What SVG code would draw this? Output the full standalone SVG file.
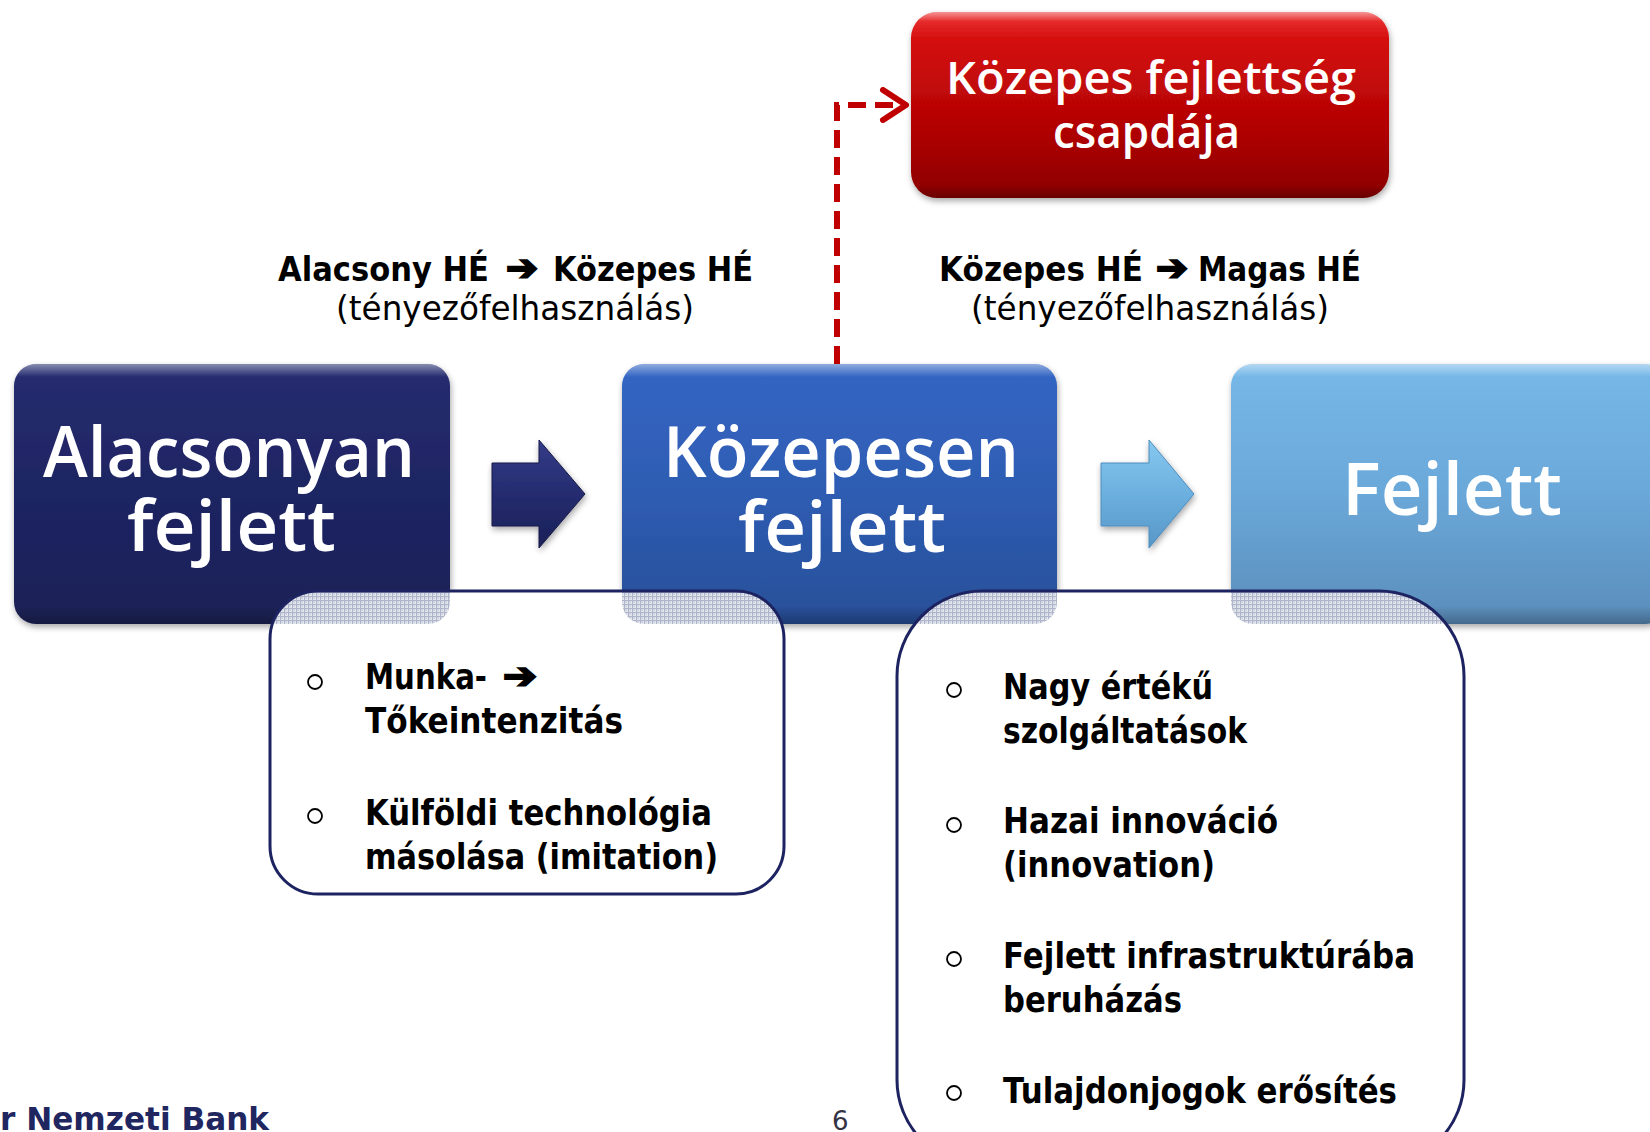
<svg xmlns="http://www.w3.org/2000/svg" width="1650" height="1132" viewBox="0 0 1650 1132">
<defs>
<style>
.big{font-family:"Open Sans","Noto Sans",sans-serif;font-weight:600;fill:#ffffff}
.lbl{font-family:"DejaVu Sans","Liberation Sans",sans-serif;font-weight:bold;fill:#000000;font-size:34px}
.sub{font-family:"DejaVu Sans","Liberation Sans",sans-serif;fill:#000000;font-size:33px}
.item{font-family:"DejaVu Sans","Liberation Sans",sans-serif;font-weight:bold;fill:#000000;font-size:35px}
.arw{font-family:"DejaVu Sans",sans-serif;font-size:36px;fill:#000;stroke:#000;stroke-width:2.2}
.bul{fill:none;stroke:#000;stroke-width:1.8}
.callout{stroke:#1c2360;stroke-width:3;fill:none}
.conn{fill:none;stroke:#c00000;stroke-width:6;stroke-dasharray:18 9}
</style>
<linearGradient id="gDark" x1="0" y1="0" x2="0" y2="1">
<stop offset="0" stop-color="#262d70"/><stop offset="0.5" stop-color="#1e2562"/><stop offset="1" stop-color="#1a2056"/>
</linearGradient>
<linearGradient id="gMid" x1="0" y1="0" x2="0" y2="1">
<stop offset="0" stop-color="#3466c4"/><stop offset="0.5" stop-color="#2e5cb2"/><stop offset="1" stop-color="#284f98"/>
</linearGradient>
<linearGradient id="gLight" x1="0" y1="0" x2="0" y2="1">
<stop offset="0" stop-color="#76b8e8"/><stop offset="0.5" stop-color="#6aa8d9"/><stop offset="1" stop-color="#5a8dba"/>
</linearGradient>
<linearGradient id="gRed" x1="0" y1="0" x2="0" y2="1">
<stop offset="0" stop-color="#ee3b3b"/><stop offset="0.15" stop-color="#d40c0c"/><stop offset="0.6" stop-color="#b40404"/><stop offset="1" stop-color="#8a0505"/>
</linearGradient>
<linearGradient id="gBevel" x1="0" y1="0" x2="0" y2="1">
<stop offset="0" stop-color="#ffffff" stop-opacity="0.45"/><stop offset="0.05" stop-color="#ffffff" stop-opacity="0"/><stop offset="0.93" stop-color="#000000" stop-opacity="0"/><stop offset="1" stop-color="#000000" stop-opacity="0.25"/>
</linearGradient>
<linearGradient id="gArr1" x1="0" y1="0" x2="0" y2="1">
<stop offset="0" stop-color="#343c88"/><stop offset="0.5" stop-color="#252c70"/><stop offset="1" stop-color="#1a2056"/>
</linearGradient>
<linearGradient id="gArr2" x1="0" y1="0" x2="0" y2="1">
<stop offset="0" stop-color="#86c8ef"/><stop offset="0.5" stop-color="#6cb0df"/><stop offset="1" stop-color="#5796c6"/>
</linearGradient>
<pattern id="hatch" width="4" height="4" patternUnits="userSpaceOnUse">
<rect width="4" height="4" fill="#e3e6ee"/>
<path d="M0,0.5H4M0.5,0V4" stroke="#aeb5c8" stroke-width="1"/>
<path d="M1,1L3,3M3,1L1,3" stroke="#c4c9d8" stroke-width="0.6"/>
</pattern>
<filter id="sh" x="-5%" y="-5%" width="115%" height="125%">
<feDropShadow dx="1" dy="3" stdDeviation="3" flood-color="#000" flood-opacity="0.35"/>
</filter>
<marker id="chev" viewBox="0 0 32 36" refX="28" refY="18" markerWidth="32" markerHeight="36" markerUnits="userSpaceOnUse" orient="auto">
<path d="M5,3 L28,18 L5,33" fill="none" stroke="#c00000" stroke-width="6" stroke-linecap="round" stroke-linejoin="round"/>
</marker>
<clipPath id="clipC1"><path d="M318,591 H736 A48,48 0 0 1 784,639 V846 A48,48 0 0 1 736,894 H318 A48,48 0 0 1 270,846 V639 A48,48 0 0 1 318,591 Z"/></clipPath>
<clipPath id="clipC2"><path d="M982,591 H1379 A85,85 0 0 1 1464,676 V1080 A85,85 0 0 1 1379,1165 H982 A85,85 0 0 1 897,1080 V676 A85,85 0 0 1 982,591 Z"/></clipPath>
</defs>

<rect width="1650" height="1132" fill="#ffffff"/>

<g id="connectors">
<path class="conn" d="M837,364 V105 H906" marker-end="url(#chev)"/>
</g>

<g id="node-alacsonyan">
<rect x="14" y="364" width="436" height="260" rx="22" fill="url(#gDark)" filter="url(#sh)"/>
<rect x="14" y="364" width="436" height="260" rx="22" fill="url(#gBevel)"/>
<text class="big" x="43" y="477" font-size="71" textLength="372" lengthAdjust="spacingAndGlyphs">Alacsonyan</text>
<text class="big" x="127" y="551" font-size="71" textLength="209" lengthAdjust="spacingAndGlyphs">fejlett</text>
</g>

<g id="arrow-1">
<polygon points="492,463 539,463 539,440 585,494 539,548 539,526 492,526" fill="url(#gArr1)" stroke="#161b4a" stroke-width="1" filter="url(#sh)"/>
</g>

<g id="node-kozepesen">
<rect x="622" y="364" width="435" height="260" rx="22" fill="url(#gMid)" filter="url(#sh)"/>
<rect x="622" y="364" width="435" height="260" rx="22" fill="url(#gBevel)"/>
<text class="big" x="663" y="477" font-size="71" textLength="356" lengthAdjust="spacingAndGlyphs">Közepesen</text>
<text class="big" x="738" y="552" font-size="71" textLength="208" lengthAdjust="spacingAndGlyphs">fejlett</text>
</g>

<g id="arrow-2">
<polygon points="1101,463 1149,463 1149,440 1194,494 1149,548 1149,526 1101,526" fill="url(#gArr2)" stroke="#4f8cbc" stroke-width="1" filter="url(#sh)"/>
</g>

<g id="node-fejlett">
<rect x="1231" y="364" width="436" height="260" rx="22" fill="url(#gLight)" filter="url(#sh)"/>
<rect x="1231" y="364" width="436" height="260" rx="22" fill="url(#gBevel)"/>
<text class="big" x="1342" y="515" font-size="72" textLength="220" lengthAdjust="spacingAndGlyphs">Fejlett</text>
</g>

<g id="node-csapda">
<rect x="911" y="12" width="478" height="186" rx="26" fill="url(#gRed)" filter="url(#sh)"/>
<rect x="911" y="12" width="478" height="186" rx="26" fill="url(#gBevel)"/>
<text class="big" x="946" y="94" font-size="46" textLength="410" lengthAdjust="spacingAndGlyphs">Közepes fejlettség</text>
<text class="big" x="1053" y="148" font-size="46" textLength="187" lengthAdjust="spacingAndGlyphs">csapdája</text>
</g>

<g id="label-left">
<text class="lbl" x="278" y="281" textLength="211" lengthAdjust="spacingAndGlyphs">Alacsony HÉ</text>
<text class="arw" x="506" y="280" textLength="32" lengthAdjust="spacingAndGlyphs">➔</text>
<text class="lbl" x="553" y="281" textLength="200" lengthAdjust="spacingAndGlyphs">Közepes HÉ</text>
<text class="sub" x="336" y="320" textLength="358" lengthAdjust="spacingAndGlyphs">(tényezőfelhasználás)</text>
</g>

<g id="label-right">
<text class="lbl" x="939" y="281" textLength="204" lengthAdjust="spacingAndGlyphs">Közepes HÉ</text>
<text class="arw" x="1156" y="280" textLength="32" lengthAdjust="spacingAndGlyphs">➔</text>
<text class="lbl" x="1198" y="281" textLength="163" lengthAdjust="spacingAndGlyphs">Magas HÉ</text>
<text class="sub" x="971" y="320" textLength="358" lengthAdjust="spacingAndGlyphs">(tényezőfelhasználás)</text>
</g>

<g id="callout-left">
<path d="M318,591 H736 A48,48 0 0 1 784,639 V846 A48,48 0 0 1 736,894 H318 A48,48 0 0 1 270,846 V639 A48,48 0 0 1 318,591 Z" fill="#ffffff"/>
<g clip-path="url(#clipC1)">
<rect x="14" y="364" width="436" height="260" rx="22" fill="url(#hatch)"/>
<rect x="622" y="364" width="435" height="260" rx="22" fill="url(#hatch)"/>
</g>
<path class="callout" d="M318,591 H736 A48,48 0 0 1 784,639 V846 A48,48 0 0 1 736,894 H318 A48,48 0 0 1 270,846 V639 A48,48 0 0 1 318,591 Z"/>
<circle class="bul" cx="315" cy="682" r="7"/>
<text class="item" x="365" y="689" textLength="122" lengthAdjust="spacingAndGlyphs">Munka-</text>
<text class="arw" x="503" y="688" textLength="34" lengthAdjust="spacingAndGlyphs">➔</text>
<text class="item" x="365" y="733" textLength="258" lengthAdjust="spacingAndGlyphs">Tőkeintenzitás</text>
<circle class="bul" cx="315" cy="816" r="7"/>
<text class="item" x="365" y="825" textLength="347" lengthAdjust="spacingAndGlyphs">Külföldi technológia</text>
<text class="item" x="365" y="869" textLength="353" lengthAdjust="spacingAndGlyphs">másolása (imitation)</text>
</g>

<g id="callout-right">
<path d="M982,591 H1379 A85,85 0 0 1 1464,676 V1080 A85,85 0 0 1 1379,1165 H982 A85,85 0 0 1 897,1080 V676 A85,85 0 0 1 982,591 Z" fill="#ffffff"/>
<g clip-path="url(#clipC2)">
<rect x="622" y="364" width="435" height="260" rx="22" fill="url(#hatch)"/>
<rect x="1231" y="364" width="436" height="260" rx="22" fill="url(#hatch)"/>
</g>
<path class="callout" d="M982,591 H1379 A85,85 0 0 1 1464,676 V1080 A85,85 0 0 1 1379,1165 H982 A85,85 0 0 1 897,1080 V676 A85,85 0 0 1 982,591 Z"/>
<circle class="bul" cx="954" cy="690" r="7"/>
<text class="item" x="1003" y="699" textLength="210" lengthAdjust="spacingAndGlyphs">Nagy értékű</text>
<text class="item" x="1003" y="743" textLength="244" lengthAdjust="spacingAndGlyphs">szolgáltatások</text>
<circle class="bul" cx="954" cy="825" r="7"/>
<text class="item" x="1003" y="833" textLength="275" lengthAdjust="spacingAndGlyphs">Hazai innováció</text>
<text class="item" x="1003" y="877" textLength="212" lengthAdjust="spacingAndGlyphs">(innovation)</text>
<circle class="bul" cx="954" cy="959" r="7"/>
<text class="item" x="1003" y="968" textLength="412" lengthAdjust="spacingAndGlyphs">Fejlett infrastruktúrába</text>
<text class="item" x="1003" y="1012" textLength="179" lengthAdjust="spacingAndGlyphs">beruházás</text>
<circle class="bul" cx="954" cy="1093" r="7"/>
<text class="item" x="1003" y="1103" textLength="394" lengthAdjust="spacingAndGlyphs">Tulajdonjogok erősítés</text>
</g>

<g id="footer">
<text x="0" y="1130" font-family="DejaVu Sans, Liberation Sans, sans-serif" font-weight="bold" font-size="32" fill="#1f2660" textLength="269" lengthAdjust="spacingAndGlyphs">r Nemzeti Bank</text>
<text x="832" y="1130" font-family="DejaVu Sans, Liberation Sans, sans-serif" font-size="26" fill="#333344">6</text>
</g>
</svg>
